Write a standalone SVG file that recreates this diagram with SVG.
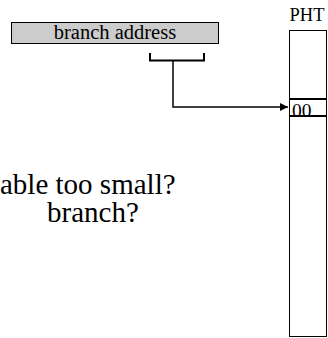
<svg xmlns="http://www.w3.org/2000/svg" width="328" height="338" viewBox="0 0 328 338">
<style>
text{font-family:'Liberation Serif','Times New Roman',serif;fill:#000}
.ln{fill:none;stroke:#000}
</style>
<defs>
<marker id="ah" viewBox="0 0 10 10" refX="10" refY="5" markerWidth="8" markerHeight="8" markerUnits="userSpaceOnUse" orient="auto">
<path d="M0,0 L10,5 L0,10 z" fill="#000"/>
</marker>
</defs>
<rect width="328" height="338" fill="#fff"/>
<g id="branch-address">
<rect x="11.5" y="22.5" width="207" height="21" fill="#cccccc" stroke="#000" stroke-width="1"/>
<text x="115" y="39" font-size="20.5" text-anchor="middle">branch address</text>
</g>
<g id="pht">
<text x="307" y="21" font-size="18.5" text-anchor="middle">PHT</text>
<rect x="289.5" y="30.5" width="37" height="306" fill="#fff" stroke="#000" stroke-width="1"/>
<line class="ln" x1="289" y1="99" x2="327" y2="99" stroke-width="2"/>
<line class="ln" x1="289" y1="116" x2="327" y2="116" stroke-width="2"/>
<text x="292" y="117" font-size="19.5">00</text>
</g>
<g id="connectors">
<path class="ln" d="M150,53 V60.5 H204 V53" stroke-width="2"/>
<path class="ln" d="M173,60.5 V107 H288" stroke-width="1.5" marker-end="url(#ah)"/>
</g>
<g id="notes">
<text x="0" y="194" font-size="29">able too small?</text>
<text x="47" y="222" font-size="29">branch?</text>
</g>
</svg>
